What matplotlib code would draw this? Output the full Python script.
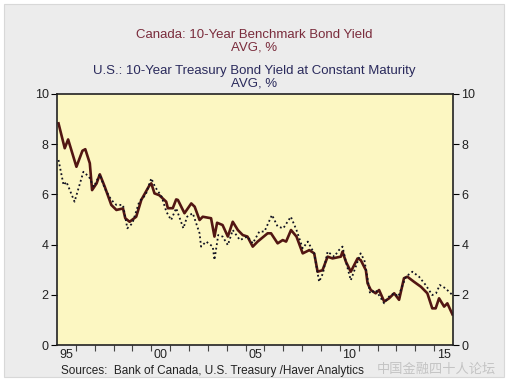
import matplotlib.pyplot as plt
from matplotlib.patches import Rectangle
from matplotlib.ticker import FixedLocator, NullFormatter, FixedFormatter

OUT_PNG = 'out.png'

# Canada 10-year benchmark bond yield (decimal year, %)
ca_t = [1995.08, 1995.41, 1995.59, 1996.03, 1996.35, 1996.5, 1996.74, 1996.86, 1997.1, 1997.27,
        1997.53, 1997.88, 1998.15, 1998.5, 1998.62, 1998.85, 1999.2, 1999.47, 1999.91, 2000.0,
        2000.17, 2000.42, 2000.79, 2000.88, 2001.14, 2001.32, 2001.41, 2001.76, 2002.12, 2002.3,
        2002.56, 2002.73, 2003.17, 2003.35, 2003.49, 2003.78, 2004.06, 2004.32, 2004.59, 2004.85,
        2005.1, 2005.38, 2005.64, 2006.17, 2006.35, 2006.7, 2006.97, 2007.15, 2007.41, 2007.7,
        2008.03, 2008.38, 2008.64, 2008.82, 2009.08, 2009.35, 2009.61, 2010.05, 2010.14, 2010.32,
        2010.58, 2010.94, 2011.11, 2011.38, 2011.47, 2011.64, 2011.9, 2012.08, 2012.35, 2012.61,
        2012.88, 2013.14, 2013.4, 2013.58, 2013.93, 2014.3, 2014.64, 2014.9, 2015.08, 2015.26,
        2015.53, 2015.7, 2015.97]
ca_y = [8.83, 7.84, 8.19, 7.10, 7.74, 7.80, 7.24, 6.17, 6.44, 6.80,
        6.31, 5.58, 5.38, 5.44, 5.05, 4.91, 5.11, 5.78, 6.37, 6.44,
        6.04, 5.97, 5.71, 5.45, 5.45, 5.80, 5.78, 5.25, 5.64, 5.51,
        4.98, 5.11, 5.05, 4.32, 4.87, 4.78, 4.32, 4.91, 4.58, 4.38,
        4.32, 3.92, 4.12, 4.45, 4.45, 4.05, 4.18, 4.12, 4.58, 4.32,
        3.65, 3.78, 3.65, 2.92, 2.98, 3.52, 3.45, 3.52, 3.72, 3.32,
        2.92, 3.45, 3.38, 2.98, 2.46, 2.19, 2.06, 2.19, 1.73, 1.86,
        2.06, 1.80, 2.66, 2.72, 2.52, 2.32, 2.06, 1.46, 1.46, 1.86,
        1.53, 1.66, 1.22]

# U.S. 10-year treasury yield at constant maturity (decimal year, %)
us_t = [1995.08, 1995.35, 1995.5, 1995.93, 1996.4, 1996.7, 1996.95, 1997.27, 1997.53, 1997.88,
        1998.15, 1998.5, 1998.73, 1999.0, 1999.36, 1999.7, 2000.0, 2000.2, 2000.55, 2000.8,
        2001.05, 2001.32, 2001.7, 2001.9, 2002.2, 2002.56, 2002.64, 2002.91, 2003.26, 2003.35,
        2003.55, 2003.78, 2004.06, 2004.32, 2004.7, 2005.1, 2005.38, 2005.73, 2006.0, 2006.4,
        2006.7, 2007.0, 2007.4, 2007.7, 2008.03, 2008.3, 2008.64, 2008.9, 2009.1, 2009.35,
        2009.7, 2009.95, 2010.14, 2010.32, 2010.58, 2011.1, 2011.3, 2011.6, 2011.9, 2012.35,
        2012.61, 2012.88, 2013.1, 2013.5, 2013.85, 2014.2, 2014.55, 2014.9, 2015.1, 2015.3,
        2015.6, 2015.97]
us_y = [7.37, 6.37, 6.50, 5.71, 6.90, 6.70, 6.30, 6.80, 6.24, 5.78,
        5.58, 5.58, 4.65, 4.85, 5.71, 5.98, 6.64, 6.30, 5.91, 5.31,
        4.98, 5.45, 4.65, 5.11, 5.25, 4.45, 3.92, 4.12, 3.92, 3.39,
        4.38, 4.32, 3.98, 4.58, 4.18, 4.32, 4.05, 4.52, 4.52, 5.18,
        4.72, 4.65, 5.11, 4.58, 3.85, 4.12, 3.65, 2.52, 2.85, 3.72,
        3.52, 3.78, 3.92, 3.32, 2.58, 3.65, 3.38, 2.06, 2.19, 1.66,
        1.93, 2.06, 1.93, 2.72, 2.92, 2.72, 2.39, 1.99, 2.06, 2.39,
        2.26, 1.99]

year_ticks = list(range(1996, 2016))
label_pos = [1995.5, 2000.5, 2005.5, 2010.5, 2015.5]
label_txt = ['95', '00', '05', '10', '15']
y_ticks = [0, 2, 4, 6, 8, 10]

plt.rcParams['font.family'] = ['Liberation Sans', 'DejaVu Sans']

fig = plt.figure(figsize=(5.08, 3.81), dpi=100, facecolor='white')
fig.patches.append(Rectangle((4 / 508, 4 / 381), 500 / 508, 373 / 381, transform=fig.transFigure,
                             facecolor='#ececec', edgecolor='#d8d8d8', linewidth=0.8, zorder=-10))

ax = fig.add_axes([57 / 508, 1 - 345 / 381, 396 / 508, 251 / 381])
ax.set_facecolor('#fcf7c2')
ax.plot(ca_t, ca_y, color='#521612', linewidth=1.9, solid_joinstyle='round')
ax.plot(us_t, us_y, color='#111122', linewidth=1.3, linestyle=(0, (1, 1.5)))
ax.set_xlim(1995, 2016)
ax.set_ylim(0, 10)

for s in ax.spines.values():
    s.set_linewidth(1.2)
    s.set_color('#222222')

ax.xaxis.set_major_locator(FixedLocator(year_ticks))
ax.xaxis.set_major_formatter(NullFormatter())
ax.xaxis.set_minor_locator(FixedLocator(label_pos))
ax.xaxis.set_minor_formatter(FixedFormatter(label_txt))
ax.tick_params(axis='x', which='major', direction='out', length=4, width=0.8, color='#444444')
ax.tick_params(axis='x', which='minor', length=0, pad=3, labelsize=9, labelcolor='#222222')

ax.set_yticks(y_ticks)
ax.tick_params(axis='y', direction='out', length=4, width=0.8, labelsize=9, pad=2,
               left=True, right=True, labelleft=True, labelright=True, labelcolor='#222222')

fig.text(0.5, 1 - 35 / 381, 'Canada: 10-Year Benchmark Bond Yield', ha='center', va='center',
         fontsize=9.5, color='#7a2c3c')
fig.text(0.5, 1 - 48 / 381, 'AVG, %', ha='center', va='center', fontsize=9.5, color='#7a2c3c')
fig.text(0.5, 1 - 71 / 381, 'U.S.: 10-Year Treasury Bond Yield at Constant Maturity', ha='center',
         va='center', fontsize=9.5, color='#2a2a5c')
fig.text(0.5, 1 - 83 / 381, 'AVG, %', ha='center', va='center', fontsize=9.5, color='#2a2a5c')

fig.text(61 / 508, 1 - 371 / 381, 'Sources:  Bank of Canada, U.S. Treasury /Haver Analytics',
         ha='left', va='center', fontsize=8.5, color='#222222')

# faint watermark, kept clear of the tick labels
fig.text(496 / 508, 1 - 369 / 381, '中国金融四十人论坛', ha='right', va='center', fontsize=9.5,
         color='#c4c4c4', family=['Noto Sans CJK SC', 'DejaVu Sans'])

fig.savefig(OUT_PNG, dpi=100, facecolor=fig.get_facecolor())
